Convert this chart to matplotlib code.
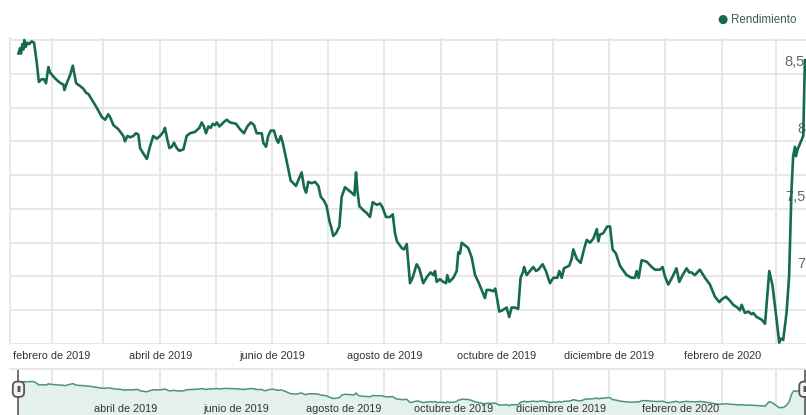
import pandas as pd
import matplotlib
matplotlib.use('Agg')
import matplotlib.pyplot as plt

plt.rcParams['font.family'] = ['Liberation Sans', 'DejaVu Sans']

# days counted from 1 Feb 2019, yield in %
days = [-18.3, -17.4, -16.9, -16.2, -15.6, -15.1, -14.3, -13.4, -12.4, -11.1,
        -9.8, -8.3, -7.2, -5.6, -4.4, -3.3, -2.0, -1.1, 0.7, 2.9,
        4.7, 6.2, 6.7, 8.0, 9.8, 11.3, 12.0, 13.1, 15.2, 17.0,
        18.5, 19.8, 21.6, 24.3, 27.1, 28.9, 30.6, 31.6, 33.4, 36.1,
        38.8, 39.7, 41.0, 42.5, 44.3, 45.7, 47.0, 47.9, 49.7, 51.6,
        53.3, 55.1, 57.0, 58.8, 60.6, 61.5, 62.8, 63.9, 65.2, 66.4,
        67.9, 69.3, 71.5, 73.3, 75.1, 77.8, 80.2, 81.5, 82.7, 83.8,
        85.1, 86.4, 87.5, 88.7, 89.7, 91.1, 93.3, 95.1, 96.9, 100.2,
        102.3, 104.5, 106.3, 108.2, 110.0, 111.4, 114.2, 115.0, 116.5, 117.7,
        119.1, 120.8, 122.3, 123.2, 124.5, 125.6, 127.8, 129.9, 131.4, 132.8,
        134.6, 135.9, 137.2, 138.3, 139.5, 141.4, 143.2, 145.0, 146.3, 148.1,
        149.5, 151.0, 151.9, 153.1, 154.6, 156.4, 157.7, 159.5, 161.3, 163.1,
        164.6, 165.5, 166.2, 167.3, 169.5, 171.3, 173.1, 174.6, 176.8, 178.6,
        180.0, 181.8, 184.0, 185.5, 186.7, 187.8, 190.4, 191.6, 193.1, 194.9,
        196.3, 198.5, 199.9, 202.1, 204.3, 206.1, 207.6, 208.5, 209.4, 211.2,
        213.0, 214.5, 215.2, 216.3, 218.5, 220.3, 221.2, 222.1, 223.0, 224.8,
        226.6, 228.5, 230.3, 232.1, 233.9, 235.7, 236.6, 238.4, 240.2, 241.3,
        242.4, 243.5, 245.3, 247.5, 248.9, 250.2, 252.0, 253.8, 255.1, 256.6,
        257.0, 258.4, 260.2, 262.0, 263.5, 264.7, 267.1, 268.9, 271.1, 272.9,
        275.1, 276.2, 277.5, 278.7, 281.6, 282.9, 283.8, 285.7, 287.8, 289.6,
        291.1, 292.9, 294.7, 296.6, 297.4, 298.3, 300.1, 302.3, 303.8, 305.2,
        307.0, 309.2, 310.7, 312.8, 315.6, 317.4, 318.3, 319.4, 321.0, 323.7,
        326.5, 328.3, 331.0, 332.4, 333.7, 335.5, 337.9, 340.0, 341.5, 343.3,
        345.5, 346.9, 348.2, 350.0, 352.7, 355.5, 358.2, 360.9, 363.3, 364.6,
        366.9, 369.1, 370.9, 373.1, 374.5, 375.5, 377.2, 379.1, 380.9, 381.8,
        383.6, 386.4, 388.2, 390.5, 392.3, 394.5, 395.9, 396.8, 398.1, 399.9,
        401.3, 402.6, 403.5, 404.5, 405.0, 405.9, 408.1, 409.0, 409.9]

rendimiento = [8.65, 8.69, 8.65, 8.72, 8.68, 8.75, 8.70, 8.73, 8.72, 8.74,
               8.73, 8.58, 8.44, 8.46, 8.46, 8.43, 8.55, 8.51, 8.48, 8.45,
               8.43, 8.42, 8.38, 8.43, 8.49, 8.56, 8.51, 8.43, 8.41, 8.39,
               8.36, 8.35, 8.31, 8.25, 8.18, 8.16, 8.20, 8.18, 8.12, 8.09,
               8.04, 8.00, 8.04, 8.03, 8.04, 8.06, 8.05, 7.95, 7.91, 7.87,
               7.96, 8.04, 8.02, 8.04, 8.07, 8.10, 8.01, 7.95, 7.96, 7.99,
               7.95, 7.93, 7.94, 8.04, 8.06, 8.07, 8.10, 8.14, 8.11, 8.06,
               8.11, 8.10, 8.13, 8.12, 8.14, 8.11, 8.14, 8.16, 8.14, 8.13,
               8.09, 8.06, 8.11, 8.14, 8.12, 8.06, 8.06, 7.99, 7.96, 8.04,
               8.08, 8.08, 8.01, 7.99, 8.04, 7.99, 7.85, 7.71, 7.69, 7.67,
               7.73, 7.77, 7.66, 7.62, 7.70, 7.69, 7.70, 7.67, 7.59, 7.56,
               7.52, 7.41, 7.37, 7.30, 7.32, 7.37, 7.59, 7.66, 7.64, 7.62,
               7.60, 7.77, 7.64, 7.52, 7.49, 7.47, 7.44, 7.55, 7.53, 7.54,
               7.51, 7.44, 7.44, 7.46, 7.32, 7.26, 7.21, 7.20, 7.24, 6.95,
               6.99, 7.09, 7.06, 6.95, 7.00, 7.03, 7.01, 7.04, 6.96, 6.98,
               6.96, 6.95, 7.01, 6.96, 6.99, 7.04, 7.18, 7.17, 7.25, 7.23,
               7.21, 7.14, 7.01, 6.96, 6.90, 6.84, 6.90, 6.90, 6.89, 6.91,
               6.83, 6.74, 6.75, 6.77, 6.70, 6.77, 6.77, 6.76, 6.99, 7.04,
               7.07, 7.01, 7.04, 7.07, 7.04, 7.05, 7.09, 7.04, 6.95, 6.99,
               6.99, 7.04, 6.99, 7.06, 7.08, 7.13, 7.20, 7.13, 7.10, 7.20,
               7.27, 7.25, 7.28, 7.35, 7.26, 7.31, 7.32, 7.37, 7.37, 7.20,
               7.17, 7.08, 7.05, 7.01, 6.99, 6.99, 7.04, 6.99, 7.12, 7.11,
               7.07, 7.05, 7.05, 7.07, 7.00, 6.94, 7.00, 7.06, 6.96, 7.01,
               7.06, 7.03, 7.03, 7.01, 7.05, 6.99, 6.94, 6.85, 6.81, 6.83,
               6.85, 6.82, 6.79, 6.77, 6.75, 6.79, 6.73, 6.74, 6.72, 6.73,
               6.70, 6.68, 6.65, 7.04, 6.93, 6.68, 6.51, 6.54, 6.53, 6.73,
               7.00, 7.64, 7.89, 7.96, 7.89, 7.94, 8.01, 8.04, 8.60]

meses = ['enero', 'febrero', 'marzo', 'abril', 'mayo', 'junio', 'julio',
         'agosto', 'septiembre', 'octubre', 'noviembre', 'diciembre']
y_labels = {7.0: '7', 7.5: '7,5', 8.0: '8', 8.5: '8,5'}

base = pd.Timestamp('2019-02-01')
dates = base + pd.to_timedelta(days, unit='D')
x_lo = base + pd.to_timedelta(-22.9, unit='D')
x_hi = base + pd.to_timedelta(410.5, unit='D')
month_ticks = pd.date_range('2019-02-01', '2020-03-01', freq='MS')

green = '#156b4c'
grid_c = '#e6e6e6'

W, H = 806, 415
fig = plt.figure(figsize=(W / 100, H / 100), dpi=100)

# main chart
ax = fig.add_axes([10 / W, 1 - 344 / H, 1 - 10 / W, (344 - 38) / H])
ax.plot(dates, rendimiento, color=green, lw=1.9, solid_joinstyle='round', zorder=3)
ax.set_xlim(x_lo, x_hi)
ax.set_ylim(6.5, 8.765)
ax.set_yticks([6.5 + 0.25 * i for i in range(10)])
ax.set_yticklabels([])
ax.tick_params(axis='y', length=0)
ax.set_xticks(month_ticks)
ax.set_xticklabels([f'{meses[d.month - 1]} de {d.year}' if i % 2 == 0 else ''
                    for i, d in enumerate(month_ticks)],
                   fontsize=7.8, color='#333333')
ax.tick_params(axis='x', length=0, pad=5)
ax.grid(True, color=grid_c, lw=1.3)
ax.set_axisbelow(True)
for s in ['top', 'right', 'bottom']:
    ax.spines[s].set_visible(False)
ax.spines['left'].set_color(grid_c)
ax.spines['left'].set_linewidth(1.3)

for v, lab in y_labels.items():
    ax.annotate(lab, xy=(1, v), xycoords=('axes fraction', 'data'),
                xytext=(-1, 5), textcoords='offset pixels',
                ha='right', va='bottom', fontsize=10.5, color='#666666', zorder=2)

# legend
fig.text(722 / W, 1 - 19.5 / H, '\u25cf', color=green, fontsize=8.5,
         ha='center', va='center', family=['DejaVu Sans'])
fig.text(731 / W, 1 - 20 / H, 'Rendimiento', color='#3b5f52',
         fontsize=8.4, ha='left', va='center')

# navigator
nav = fig.add_axes([10 / W, 0, 1 - 10 / W, (415 - 369) / H])
nav.fill_between(dates, rendimiento, 5.9, color='#e4f1ea', lw=0)
nav.plot(dates, rendimiento, color='#4f9275', lw=1.1)
nav.set_xlim(x_lo, x_hi)
nav.set_ylim(5.9, 9.8)
nav.set_xticks(month_ticks)
nav.set_xticklabels([])
nav.set_yticks([])
nav.tick_params(length=0)
nav.grid(True, axis='x', color=grid_c, lw=1.3)
nav.set_axisbelow(True)
for s in ['right', 'bottom', 'left']:
    nav.spines[s].set_visible(False)
nav.spines['top'].set_color(grid_c)
nav.spines['top'].set_linewidth(1.3)

for i, d in enumerate(month_ticks):
    if i % 2 == 0 and i > 0:
        nav.annotate(f'{meses[d.month - 1]} de {d.year}', xy=(d, 0),
                     xycoords=('data', 'axes fraction'),
                     xytext=(-3, 1), textcoords='offset pixels',
                     ha='right', va='bottom', fontsize=7.8, color='#333333')

for d in [dates[0], dates[-1]]:
    nav.axvline(d, color='#555555', lw=1.2)
    nav.annotate('II', xy=(d, 0.56), xycoords=('data', 'axes fraction'),
                 ha='center', va='center', fontsize=6.5, color='#444444',
                 fontweight='bold', linespacing=1.0,
                 bbox=dict(boxstyle='round,pad=0.35,rounding_size=0.5',
                           fc='#f2f2f2', ec='#555555', lw=1.3))

fig.savefig('out.png', dpi=100, facecolor='white')
